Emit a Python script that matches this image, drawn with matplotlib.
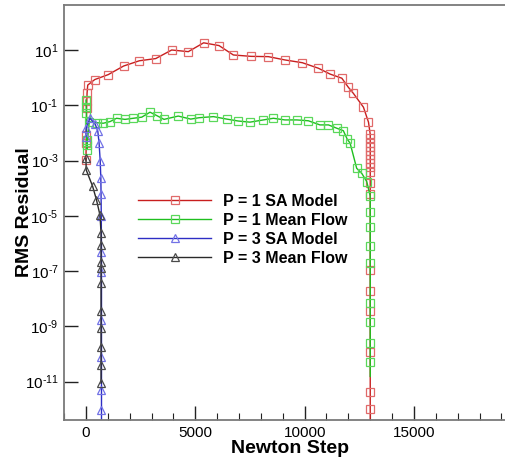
import matplotlib
matplotlib.use('Agg')
import matplotlib.pyplot as plt
import numpy as np
from matplotlib.ticker import FixedLocator, MultipleLocator

plt.rcParams['font.family'] = ['Liberation Sans', 'DejaVu Sans']
plt.rcParams['mathtext.fontset'] = 'custom'
plt.rcParams['mathtext.rm'] = 'Liberation Sans'
plt.rcParams['mathtext.it'] = 'Liberation Sans:italic'
plt.rcParams['mathtext.bf'] = 'Liberation Sans:bold'

# values (residuals stored as log10)
p1_sa_step = [0, 10, 20, 30, 40, 50, 80, 400, 1020, 1720, 2440, 3190, 3920,
              4680, 5380, 6085, 6740, 7550, 8340, 9100, 9895, 10630, 11160,
              11700, 12000, 12230, 12690, 12920,
              13000, 13000, 13000, 13000, 13000, 13000, 13000, 13000, 13000,
              13000, 13000, 13000, 13000, 13000, 13000, 13000, 13000, 13000,
              13000]
p1_sa_log = [-2.98, -2.36, -2.07, -1.10, -0.84, -0.56, -0.27, -0.07, 0.11,
             0.42, 0.61, 0.69, 1.00, 0.94, 1.26, 1.16, 0.82, 0.77, 0.76, 0.64,
             0.54, 0.34, 0.13, -0.02, -0.35, -0.57, -1.07, -1.61,
             -2.05, -2.20, -2.35, -2.50, -2.65, -2.80, -2.95, -3.10, -3.25,
             -3.40, -3.81, -4.20, -6.96, -7.72, -8.46, -9.91, -11.36, -11.98,
             -14.0]

p1_mf_step = [0, 10, 20, 30, 40, 50, 150, 490, 790, 1100, 1400, 1785, 2165,
              2550, 2930, 3230, 3570, 4220, 4790, 5170, 5830, 6440, 6970,
              7500, 8110, 8570, 9100, 9640, 10170, 10700, 11090, 11470, 11770,
              11950, 12080, 12380, 12610, 12840,
              13000, 13000, 13000, 13000, 13000, 13000, 13000, 13000, 13000,
              13000]
p1_mf_log = [-0.81, -1.06, -1.28, -2.25, -2.60, -2.43, -1.60, -1.63, -1.65,
             -1.59, -1.47, -1.51, -1.47, -1.43, -1.25, -1.37, -1.51, -1.39,
             -1.50, -1.45, -1.41, -1.50, -1.57, -1.61, -1.53, -1.47, -1.53,
             -1.53, -1.56, -1.71, -1.71, -1.83, -1.92, -2.23, -2.37, -3.28,
             -3.46, -3.76,
             -4.28, -4.85, -5.39, -6.09, -6.71, -8.17, -8.83, -9.61, -10.27,
             -10.81]

p3_sa_step = [0, 10, 180, 420, 540, 600, 650, 680, 690, 700,
              710, 710, 710, 710, 710, 710, 710]
p3_sa_log = [-2.13, -1.83, -1.47, -1.68, -1.93, -2.37, -3.00, -3.64, -4.20,
             -5.00, -6.29, -7.02, -8.76, -10.09, -11.30, -12.02, -14.0]

p3_mf_step = [0, 10, 300, 480, 640,
              690, 690, 690, 690, 690, 690, 690, 690, 690, 690]
p3_mf_log = [-2.92, -3.34, -3.92, -4.42, -4.97,
             -5.62, -6.05, -6.66, -6.88, -7.43, -8.46, -9.07, -9.73, -10.39,
             -11.05]

x_ticks = [0, 5000, 10000, 15000]
y_tick_exp = [1, -1, -3, -5, -7, -9, -11]

series = [
    ('P = 1 SA Model', p1_sa_step, p1_sa_log, '#c81e1e', '#e06a6a', 's', slice(0, -1)),
    ('P = 1 Mean Flow', p1_mf_step, p1_mf_log, '#1fbf1f', '#5ad85a', 's', slice(0, -1)),
    ('P = 3 SA Model', p3_sa_step, p3_sa_log, '#2e2ec4', '#7272e6', '^', slice(0, -1)),
    ('P = 3 Mean Flow', p3_mf_step, p3_mf_log, '#2a2a2a', '#4a4a4a', '^', None),
]

W, H = 506, 461
fig = plt.figure(figsize=(W / 100, H / 100), dpi=100)
# right part of the frame runs past the picture edge
ax = fig.add_axes([64.1 / W, 41 / H, 459.2 / W, 415 / H])

for label, steps, logs, lc, mc, mk, every in series:
    ax.plot(steps, 10.0 ** np.array(logs), color=lc, lw=1.0, marker=mk,
            markersize=5.5, markerfacecolor='none', markeredgecolor=mc,
            markeredgewidth=0.9, markevery=every, label=label)

ax.set_yscale('log')
ax.set_xlim(-1000, 20000)
ax.set_ylim(10 ** -12.386, 10 ** 2.628)

ax.xaxis.set_major_locator(FixedLocator(x_ticks))
ax.xaxis.set_minor_locator(MultipleLocator(1000))
ax.yaxis.set_major_locator(FixedLocator([10.0 ** e for e in y_tick_exp]))
ax.yaxis.set_minor_locator(FixedLocator([]))
ax.set_yticklabels([r'$10^{\text{%d}}$' % e for e in y_tick_exp])

ax.tick_params(axis='both', which='major', direction='in', length=10,
               width=1.0, labelsize=11, color='#222222', pad=4)
ax.tick_params(axis='x', which='minor', direction='in', length=5, width=0.8,
               color='#222222')
ax.tick_params(top=False, right=False)

for side in ['left', 'bottom', 'top']:
    ax.spines[side].set_color('#7a7a7a')
    ax.spines[side].set_linewidth(1.3)
ax.spines['right'].set_visible(False)

ax.set_xlabel('Newton Step', fontsize=14, fontweight='bold')
ax.set_ylabel('RMS Residual', fontsize=14, fontweight='bold')
ax.xaxis.set_label_coords(0.491, -0.047)
ax.yaxis.set_label_coords(-0.068, 0.501)

leg = ax.legend(loc='upper left', bbox_to_anchor=(138 / W, 1 - 194 / H),
                bbox_transform=fig.transFigure, frameon=False, numpoints=1,
                handlelength=4.6, handletextpad=0.7, labelspacing=0.24,
                borderpad=0, borderaxespad=0,
                prop={'size': 11.5, 'weight': 'bold'})

fig.savefig('out.png', dpi=100)
